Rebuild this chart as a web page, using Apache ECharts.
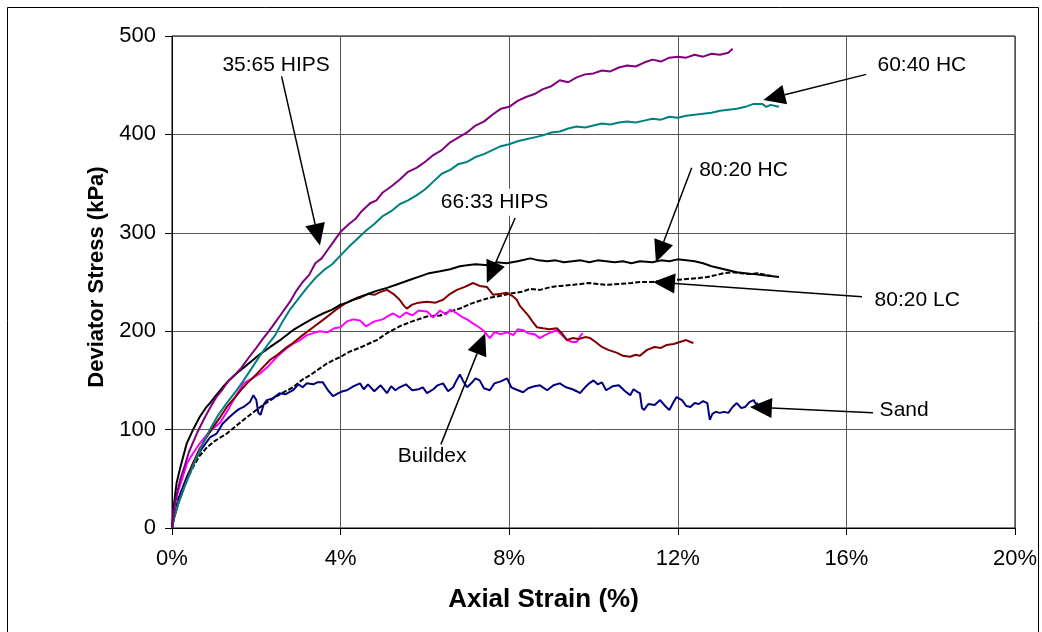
<!DOCTYPE html>
<html><head><meta charset="utf-8">
<script src="https://cdn.jsdelivr.net/npm/echarts/dist/echarts.min.js"></script>
<style>html,body{margin:0;padding:0;background:#fff}#c{width:1042px;height:632px}</style>
</head><body><div id="c"></div>
<script>
// ---- data (strain %, deviator stress kPa) ----
const hips3565X = [0,0.05,0.1,0.2,0.3,0.4,0.5,0.6,0.75,0.9,1.05,1.2,1.35,1.5,1.65,1.8,2.0,2.15,2.3,2.45,2.6,2.8,2.95,3.1,3.25,3.4,3.55,3.7,3.85,4.0,4.2,4.35,4.5,4.7,4.85,5.0,5.2,5.4,5.6,5.8,6.0,6.2,6.4,6.6,6.8,7.0,7.2,7.4,7.6,7.8,8.0,8.2,8.4,8.6,8.8,9.0,9.2,9.4,9.6,9.8,10.0,10.2,10.4,10.6,10.8,11.0,11.2,11.4,11.6,11.8,12.0,12.2,12.4,12.6,12.8,13.0,13.2,13.3];
const hips3565Y = [0,18,32,50,63,77,87,97,110,122,133,141,150,156,163,172,183,192,200,209,218,230,241,250,257,269,274,283,292,301,309,314,322,330,333,341,347,354,362,366,372,379,384,392,397,402,409,413,420,426,428,434,438,441,446,449,455,453,458,461,462,465,464,468,470,469,473,476,474,478,479,478,481,479,482,481,483,487];

const hc6040X = [0,0.05,0.15,0.3,0.5,0.7,0.9,1.1,1.3,1.5,1.7,1.9,2.1,2.3,2.45,2.6,2.8,3.0,3.2,3.4,3.6,3.8,4.0,4.2,4.4,4.6,4.8,5.0,5.2,5.4,5.6,5.8,6.0,6.2,6.4,6.6,6.8,7.0,7.2,7.4,7.6,7.8,8.0,8.2,8.4,8.6,8.8,9.0,9.2,9.4,9.6,9.8,10.0,10.2,10.4,10.6,10.8,11.0,11.2,11.4,11.6,11.8,12.0,12.2,12.4,12.6,12.8,13.0,13.2,13.4,13.6,13.8,14.0,14.1,14.2,14.4];
const hc6040Y = [0,10,25,42,63,83,100,115,127,138,150,163,176,188,196,208,222,233,244,254,262,268,277,286,294,302,309,317,322,329,333,338,344,352,360,364,370,372,377,380,384,388,390,393,395,397,399,402,403,406,408,407,409,411,410,412,413,412,414,416,415,418,417,419,420,421,422,424,425,426,428,431,431,428,430,428];

const hc8020X = [0,0.05,0.11,0.2,0.35,0.5,0.66,0.8,0.9,1.05,1.2,1.35,1.53,1.7,1.9,2.1,2.33,2.6,2.87,3.1,3.35,3.58,3.8,4.0,4.15,4.4,4.6,4.85,5.1,5.3,5.5,5.7,5.9,6.1,6.36,6.6,6.83,7.0,7.2,7.5,7.7,7.94,8.2,8.5,8.7,8.9,9.1,9.3,9.5,9.7,9.9,10.1,10.3,10.5,10.7,10.9,11.1,11.4,11.6,11.8,12.0,12.2,12.4,12.6,12.8,13.0,13.2,13.4,13.6,13.8,14.0,14.2,14.4];
const hc8020Y = [0,25,46,62,86,100,113,122,127,135,143,150,157,163,170,177,184,192,201,207,213,218,222,227,229,234,237,241,244,247,250,253,256,259,261,263,266,267,268,267,270,269,271,274,272,271,272,270,271,272,270,272,271,270,271,269,271,270,272,271,273,272,271,269,266,264,262,260,259,258,257,256,255];

const lc8020X = [0,0.05,0.15,0.3,0.5,0.65,0.83,1.0,1.15,1.3,1.5,1.7,2.0,2.2,2.45,2.65,2.87,3.1,3.3,3.5,3.67,3.85,4.0,4.2,4.45,4.65,4.86,5.1,5.4,5.7,6.05,6.36,6.6,6.83,7.1,7.3,7.54,7.8,8.0,8.3,8.5,8.73,9.0,9.2,9.5,9.7,9.9,10.1,10.3,10.6,10.9,11.1,11.4,11.6,11.9,12.2,12.5,12.7,12.9,13.1,13.3,13.5,13.7,13.9,14.1,14.26];
const lc8020Y = [0,11,30,45,62,73,82,88,92,96,103,110,120,126,133,138,143,151,156,162,167,171,174,179,183,187,191,198,205,210,215,216,220,223,228,231,234,236,238,240,243,242,245,246,247,248,249,248,247,248,249,250,250,251,252,253,254,255,257,259,260,259,258,259,257,256];

const hips6633X = [0,0.03,0.15,0.3,0.5,0.65,0.83,1.0,1.15,1.3,1.5,1.65,1.78,2.0,2.15,2.33,2.5,2.7,2.87,3.1,3.35,3.6,3.9,4.1,4.3,4.46,4.65,4.8,4.95,5.1,5.25,5.4,5.5,5.57,5.7,5.85,6.05,6.25,6.43,6.6,6.76,6.95,7.14,7.3,7.47,7.62,7.8,7.95,8.07,8.18,8.25,8.33,8.45,8.55,8.66,8.8,8.95,9.13,9.25,9.37,9.5,9.65,9.8,9.92,10.05,10.2,10.35,10.56,10.7,10.87,11.0,11.1,11.27,11.45,11.6,11.74,11.9,12.05,12.2,12.3,12.37];
const hips6633Y = [0,8,25,43,66,80,93,104,113,123,133,141,147,156,163,171,176,183,188,196,204,212,222,228,232,234,238,237,240,242,238,232,226,223,227,229,230,229,232,238,242,245,249,246,245,237,238,239,236,232,226,222,216,210,204,203,202,203,198,191,193,192,194,193,189,184,181,178,175,174,176,175,181,184,183,186,187,189,191,189,188];

const buildexX = [0,0.03,0.15,0.36,0.5,0.66,0.85,1.0,1.14,1.3,1.5,1.7,1.9,2.09,2.3,2.49,2.7,2.9,3.04,3.2,3.35,3.5,3.7,3.85,4.0,4.15,4.3,4.46,4.6,4.8,5.0,5.15,5.25,5.4,5.55,5.7,5.85,6.05,6.2,6.36,6.5,6.6,6.76,6.9,7.0,7.14,7.25,7.38,7.54,7.65,7.8,7.95,8.1,8.2,8.33,8.45,8.6,8.73,8.85,9.0,9.13,9.25,9.37,9.5,9.6,9.7,9.75];
const buildexY = [0,18,38,66,76,86,96,102,107,118,133,147,152,157,165,174,182,188,191,196,198,200,199,203,204,210,212,211,205,210,212,216,218,214,219,216,221,220,214,221,217,222,218,214,212,208,205,201,193,199,197,199,196,202,201,198,197,193,196,199,201,196,191,189,189,196,198];

const sandX = [0,0.05,0.2,0.35,0.5,0.7,0.9,1.06,1.2,1.37,1.5,1.6,1.7,1.85,1.93,2.0,2.05,2.1,2.18,2.25,2.4,2.55,2.7,2.87,3.0,3.1,3.2,3.35,3.45,3.58,3.7,3.82,3.95,4.05,4.15,4.3,4.46,4.55,4.65,4.8,4.95,5.1,5.2,5.3,5.4,5.55,5.7,5.85,5.95,6.05,6.2,6.3,6.43,6.55,6.67,6.75,6.83,6.9,7.0,7.1,7.2,7.3,7.4,7.54,7.65,7.8,7.95,8.05,8.15,8.33,8.45,8.6,8.73,8.9,9.05,9.2,9.35,9.5,9.6,9.68,9.8,9.9,10.0,10.1,10.2,10.3,10.45,10.6,10.75,10.87,10.95,11.05,11.1,11.15,11.2,11.3,11.45,11.58,11.7,11.8,11.9,11.97,12.1,12.2,12.3,12.4,12.5,12.6,12.7,12.76,12.82,12.9,13.0,13.1,13.2,13.3,13.4,13.5,13.6,13.7,13.8,13.85,13.9];
const sandY = [0,11,35,52,66,80,92,96,106,113,118,121,123,128,135,130,117,115,126,130,132,137,136,140,146,143,147,146,148,148,140,134,137,139,140,144,147,141,146,139,145,137,144,140,143,146,140,141,143,137,141,145,147,139,143,150,156,150,143,147,152,150,142,140,147,149,152,143,141,138,142,144,145,140,145,147,143,141,139,137,143,147,150,146,148,140,144,145,139,135,141,138,137,122,120,126,125,130,124,120,128,133,130,124,123,127,126,129,127,110,116,118,117,118,117,123,127,122,123,128,130,126,127];

const xTicks = [0, 4, 8, 12, 16, 20];
const yTicks = [0, 100, 200, 300, 400, 500];

// annotations (data coordinates)
const annoText   = ['35:65 HIPS', '60:40 HC', '80:20 HC', '66:33 HIPS', '80:20 LC', 'Buildex', 'Sand'];
const annoTextAt = [[2.47,470],[17.79,470],[13.56,364],[7.65,331],[17.68,232],[6.17,73],[17.37,120]];
const annoFrom   = [[2.60,459],[16.47,461],[12.33,366],[8.14,315],[16.37,235],[6.38,85],[16.63,117]];
const annoTo     = [[3.51,287],[14.03,435],[11.48,270],[7.47,249],[11.41,250],[7.43,198],[13.71,123]];

const zip = (a, b) => a.map((v, i) => [v, b[i]]);
const FONT = '"Liberation Sans", Arial, sans-serif';

const seriesDefs = [
  {name: '80:20 LC', x: lc8020X, y: lc8020Y, color: '#000000', dash: [5, 2]},
  {name: 'Sand', x: sandX, y: sandY, color: '#000080'},
  {name: 'Buildex', x: buildexX, y: buildexY, color: '#FF00FF'},
  {name: '66:33 HIPS', x: hips6633X, y: hips6633Y, color: '#800000'},
  {name: '80:20 HC', x: hc8020X, y: hc8020Y, color: '#000000'},
  {name: '60:40 HC', x: hc6040X, y: hc6040Y, color: '#008080'},
  {name: '35:65 HIPS', x: hips3565X, y: hips3565Y, color: '#800080'}
];

const chart = echarts.init(document.getElementById('c'), null, {renderer: 'canvas'});
const option = {
  animation: false,
  backgroundColor: '#fff',
  grid: {left: 172, right: 27, top: 36, bottom: 104, show: true, borderColor: '#000', borderWidth: 1, backgroundColor: 'transparent'},
  xAxis: {
    type: 'value', min: xTicks[0], max: xTicks[xTicks.length - 1], interval: 4,
    name: 'Axial Strain (%)', nameLocation: 'middle', nameGap: 59,
    nameTextStyle: {fontFamily: FONT, fontWeight: 'bold', fontSize: 26, color: '#000', padding: [0, 100, 0, 0]},
    axisLine: {lineStyle: {color: '#000', width: 1}},
    axisTick: {show: true, length: 7, lineStyle: {color: '#000'}},
    axisLabel: {fontFamily: FONT, fontSize: 22, color: '#000', margin: 20, formatter: '{value}%'},
    splitLine: {show: true, lineStyle: {color: '#555', width: 1}}
  },
  yAxis: {
    type: 'value', min: yTicks[0], max: yTicks[yTicks.length - 1], interval: 100,
    name: 'Deviator Stress (kPa)', nameLocation: 'middle', nameGap: 64,
    nameTextStyle: {fontFamily: FONT, fontWeight: 'bold', fontSize: 22, color: '#000', padding: [0, 0, 0, 10]},
    axisLine: {show: true, lineStyle: {color: '#000', width: 1}},
    axisTick: {show: true, length: 7, lineStyle: {color: '#000'}},
    axisLabel: {fontFamily: FONT, fontSize: 22, color: '#000', margin: 16},
    splitLine: {show: true, lineStyle: {color: '#555', width: 1}}
  },
  series: seriesDefs.map(s => ({
    name: s.name, type: 'line', data: zip(s.x, s.y), showSymbol: false, symbol: 'none',
    lineStyle: {color: s.color, width: 2, type: s.dash || 'solid'}, z: 3
  }))
};
chart.setOption(option);

// build annotations from data coordinates
const gfx = [{
  type: 'rect', shape: {x: 7.5, y: 7.5, width: 1031, height: 640}, style: {fill: 'none', stroke: '#000', lineWidth: 1}, z: 100, silent: true
}];
const HEAD_L = 22, HEAD_W = 10;
annoText.forEach((t, i) => {
  const p = chart.convertToPixel({gridIndex: 0}, annoTextAt[i]);
  const a = chart.convertToPixel({gridIndex: 0}, annoFrom[i]);
  const b = chart.convertToPixel({gridIndex: 0}, annoTo[i]);
  const dx = b[0] - a[0], dy = b[1] - a[1];
  const len = Math.sqrt(dx * dx + dy * dy);
  const ux = dx / len, uy = dy / len;
  const bx = b[0] - ux * HEAD_L, by = b[1] - uy * HEAD_L;
  gfx.push({type: 'text', z: 50, silent: true, style: {
    text: t, x: p[0], y: p[1], align: 'center', verticalAlign: 'middle',
    font: '21px ' + FONT, fill: '#000', backgroundColor: '#fff', padding: [3, 8]
  }});
  gfx.push({type: 'line', z: 60, silent: true, shape: {x1: a[0], y1: a[1], x2: bx, y2: by}, style: {stroke: '#000', lineWidth: 1.5}});
  gfx.push({type: 'polygon', z: 60, silent: true, shape: {points: [
    [b[0], b[1]], [bx - uy * HEAD_W, by + ux * HEAD_W], [bx + uy * HEAD_W, by - ux * HEAD_W]
  ]}, style: {fill: '#000'}});
});
chart.setOption({graphic: gfx});
</script></body></html>
